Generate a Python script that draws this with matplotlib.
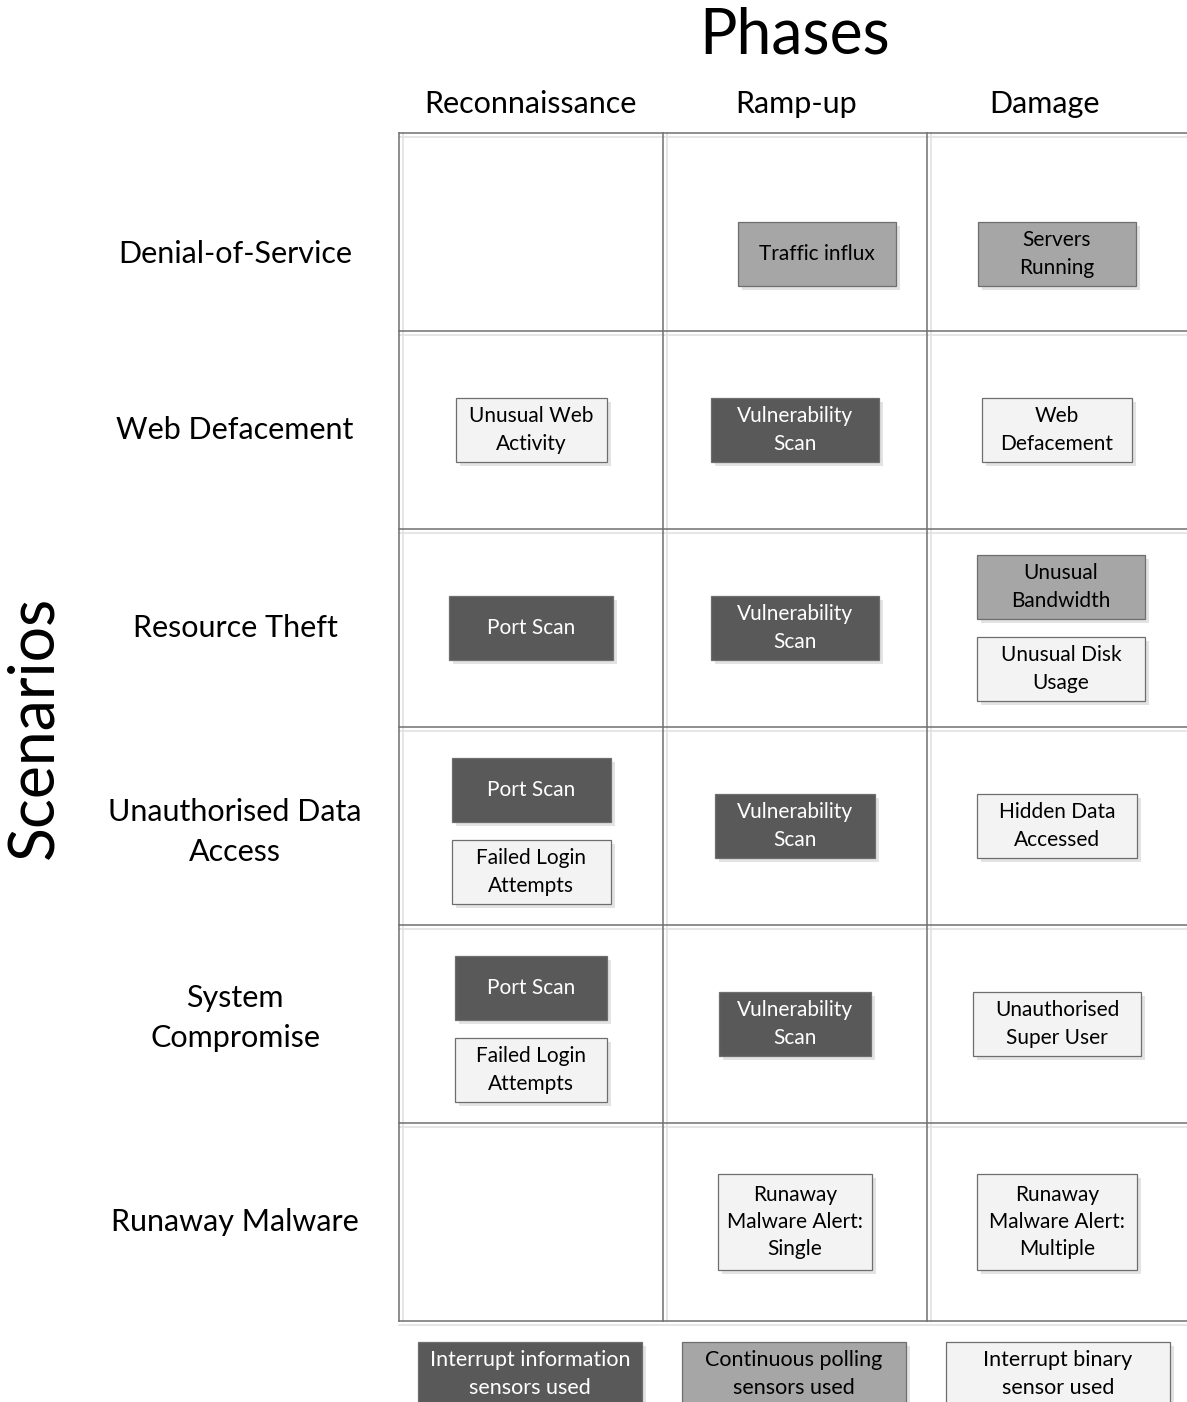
import matplotlib.pyplot as plt
from matplotlib.patches import Rectangle

plt.rcParams['font.family'] = ['Lato', 'DejaVu Sans']

# data
phases = ["Reconnaissance", "Ramp-up", "Damage"]
scenarios = ["Denial-of-Service", "Web Defacement", "Resource Theft",
             "Unauthorised Data\nAccess", "System\nCompromise", "Runaway Malware"]
# (scenario, phase, label, sensor kind)
events = [
    (0, 1, "Traffic influx", "poll"),
    (0, 2, "Servers\nRunning", "poll"),
    (1, 0, "Unusual Web\nActivity", "binary"),
    (1, 1, "Vulnerability\nScan", "info"),
    (1, 2, "Web\nDefacement", "binary"),
    (2, 0, "Port Scan", "info"),
    (2, 1, "Vulnerability\nScan", "info"),
    (2, 2, "Unusual\nBandwidth", "poll"),
    (2, 2, "Unusual Disk\nUsage", "binary"),
    (3, 0, "Port Scan", "info"),
    (3, 0, "Failed Login\nAttempts", "binary"),
    (3, 1, "Vulnerability\nScan", "info"),
    (3, 2, "Hidden Data\nAccessed", "binary"),
    (4, 0, "Port Scan", "info"),
    (4, 0, "Failed Login\nAttempts", "binary"),
    (4, 1, "Vulnerability\nScan", "info"),
    (4, 2, "Unauthorised\nSuper User", "binary"),
    (5, 1, "Runaway\nMalware Alert:\nSingle", "binary"),
    (5, 2, "Runaway\nMalware Alert:\nMultiple", "binary"),
]
legend_kinds = ["info", "poll", "binary"]
legend_labels = ["Interrupt information\nsensors used", "Continuous polling\nsensors used",
                 "Interrupt binary\nsensor used"]

# styles / layout (pixels)
fills = {"info": "#595959", "poll": "#a6a6a6", "binary": "#f3f3f3"}
text_col = {"info": "white", "poll": "black", "binary": "black"}
box_w = [158, 158, 151, 168, 150, 164, 168, 168, 168, 159, 159, 160, 160,
         152, 152, 152, 168, 154, 160]
box_dx = {0: 22}
col_x = [399, 663, 927, 1187]
row_y0, row_h = 133, 198
row_dy = {0: 22}
box_h1, gap = 64, 18

W, H = 1187, 1402
fig = plt.figure(figsize=(W / 100, H / 100), dpi=100)
ax = fig.add_axes([0, 0, 1, 1])
ax.set_xlim(0, W)
ax.set_ylim(H, 0)
ax.axis('off')

n = len(scenarios)
row_edges = [row_y0 + i * row_h for i in range(n + 1)]
dark, light = "#707070", "#e2e2e2"
for y in row_edges:
    ax.plot([col_x[0], W], [y + 4, y + 4], color=light, lw=1.2, zorder=1)
    ax.plot([col_x[0], W], [y, y], color=dark, lw=1.1, zorder=2)
for x in col_x[:-1]:
    ax.plot([x + 4, x + 4], [row_edges[0], row_edges[-1]], color=light, lw=1.2, zorder=1)
    ax.plot([x, x], [row_edges[0], row_edges[-1]], color=dark, lw=1.1, zorder=2)

ax.text(795, 35, "Phases", fontsize=45, ha='center', va='center')
ax.text(34, 727, "Scenarios", fontsize=45, ha='center', va='center', rotation=90)

head_x = [530, 796, 1045]
for x, p in zip(head_x, phases):
    ax.text(x, 104, p, fontsize=22, ha='center', va='center')

for i, s in enumerate(scenarios):
    yc = row_y0 + (i + 0.5) * row_h + row_dy.get(i, 0) - (6 if "\n" in s else 0) + (i == 3) * 12
    ax.text(235, yc, s, fontsize=22, ha='center', va='center', linespacing=1.55)


def draw_box(xc, yc, w, h, label, kind, fs=15):
    ax.add_patch(Rectangle((xc - w / 2 + 4, yc - h / 2 + 4), w, h,
                           facecolor="#e3e3e3", edgecolor='none', zorder=3))
    ax.add_patch(Rectangle((xc - w / 2, yc - h / 2), w, h, facecolor=fills[kind],
                           edgecolor="#6e6e6e", lw=0.9, zorder=4))
    ax.text(xc, yc, label, fontsize=fs, ha='center', va='center',
            color=text_col[kind], linespacing=1.45, zorder=5)


# group events per cell
cells = {}
for k, (r, c, lab, kind) in enumerate(events):
    cells.setdefault((r, c), []).append((k, lab, kind))

for (r, c), items in cells.items():
    xc = (col_x[c] + col_x[c + 1]) / 2 + (box_dx.get(r, 0) if c == 1 else 0)
    yc = row_y0 + (r + 0.5) * row_h + row_dy.get(r, 0)
    if len(items) > 1 and c == 0:
        yc += 5
    heights = [box_h1 + 32 * (lab.count("\n") - 1) if lab.count("\n") > 1 else box_h1
               for _, lab, _ in items]
    total = sum(heights) + gap * (len(items) - 1)
    y = yc - total / 2
    for (k, lab, kind), h in zip(items, heights):
        draw_box(xc + (4 if (r == 2 and c == 2) else 0), y + h / 2, box_w[k], h, lab, kind)
        y += h + gap

leg_x = [530, 794, 1058]
for x, lab, kind in zip(leg_x, legend_labels, legend_kinds):
    draw_box(x, 1374, 224, 64, lab, kind, fs=15.5)

fig.savefig("out.png", dpi=100)
